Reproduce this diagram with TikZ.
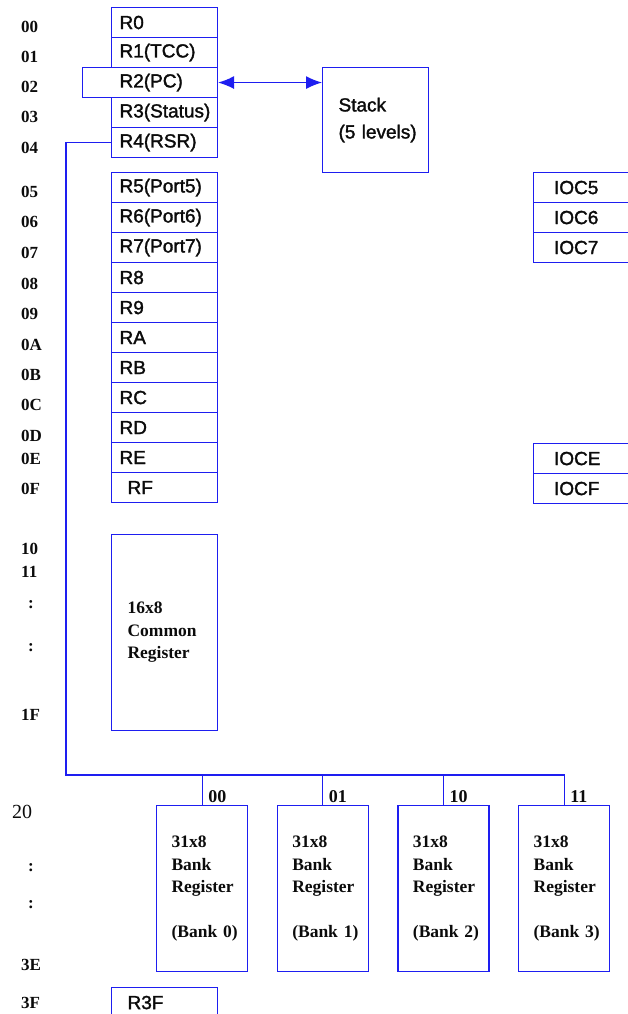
\documentclass[tikz,border=0pt]{standalone}
\usepackage{fontspec}
\setmainfont{Liberation Serif}
\newfontfamily\regfont[FakeBold=1.6]{Liberation Sans}
\usetikzlibrary{arrows.meta,positioning}
\definecolor{MAPblue}{HTML}{1E1EF0}
\definecolor{MAPink}{HTML}{0B0B0B}

\begin{document}
\begin{tikzpicture}[
  x=1pt,y=-1pt,
  line cap=rect,
  reg/.style={draw=MAPblue,line width=1.1pt,anchor=north west,minimum width=106pt,
    minimum height=30pt,inner xsep=8pt,inner ysep=0pt,text width=90pt,align=left,
    text=MAPink,font=\regfont\fontsize{19}{22}\selectfont},
  ioc/.style={reg,inner xsep=16pt,text width=65pt},
  addr/.style={anchor=west,inner sep=0pt,text=MAPink,font=\bfseries\fontsize{17}{20}\selectfont},
  dots/.style={inner sep=0pt,text=MAPink,font=\bfseries\fontsize{17}{20}\selectfont},
  block/.style={draw=MAPblue,line width=1.1pt,anchor=north west,inner ysep=0pt,align=left,
    text=MAPink,font=\bfseries\fontsize{17.5}{22.5}\selectfont},
  bitlbl/.style={anchor=south west,inner xsep=0pt,inner ysep=2pt,text=MAPink,
    font=\bfseries\fontsize{18}{20}\selectfont},
  link/.style={draw=MAPblue,line width=1.2pt,
    {Latex[length=16pt,width=13pt]}-{Latex[length=16pt,width=13pt]}},
  bus/.style={draw=MAPblue,line width=1.1pt}
]

\useasboundingbox (0,0) rectangle (627,1014);

% address column
\foreach \a/\yy in {00/27,01/57,02/87,03/117,04/148,05/192,06/222,07/253,08/284,09/314,
  0A/345,0B/375,0C/405,0D/436,0E/459,0F/489,10/549,11/572,1F/715,3E/965,3F/1003}
  \node[addr] (ad\a) at (21,\yy) {\a};
\node[addr,font=\fontsize{20}{22}\selectfont] (ad20) at (12,812) {20};
\foreach \yy [count=\k] in {605,648,868,905}
  \node[dots] (dt\k) at (31,\yy) {:};

% special registers
\foreach \txt/\nm/\yy in {R0/r0/7,R1(TCC)/r1/37,R3(Status)/r3/97,R4(RSR)/r4/127}
  \node[reg] (\nm) at (111,\yy) {\txt};
\node[reg,minimum width=135pt,text width=119pt] (r2) at (82,67) {\hspace*{29pt}R2(PC)};

\node[reg,minimum width=106pt,minimum height=105pt,inner xsep=16pt,text width=74pt,
  font=\regfont\fontsize{19}{27}\selectfont] (stack) at (322,67)
  {Stack\\\mbox{(5 levels)}};
\draw[link] (r2.east) -- (r2.east -| stack.west);

% general registers
\foreach \txt/\nm [count=\i from 0] in {R5(Port5)/r5,R6(Port6)/r6,R7(Port7)/r7,R8/r8,R9/r9,
  RA/rA,RB/rB,RC/rC,RD/rD,RE/rE,\hspace*{8pt}RF/rF}
  \node[reg] (\nm) at (111,172+30*\i) {\txt};

% control registers
\foreach \txt/\yy in {IOC5/172,IOC6/202,IOC7/232,IOCE/443,IOCF/473}
  \node[ioc] (\txt) at (533,\yy) {\txt};

% common and bank registers
\node[block,minimum width=106pt,minimum height=196pt,inner xsep=16pt,text width=74pt]
  (common) at (111,534) {16x8\\Common\\Register};
\foreach \i in {0,...,3}
  \node[block,minimum width=91pt,minimum height=166pt,inner xsep=15pt,text width=61pt]
    (bank\i) at (156+120.7*\i,805) {31x8\\Bank\\\mbox{Register}\\[22.5pt]\mbox{(Bank \i)}};
\foreach \i/\bits in {0/00,1/01,2/10,3/11}
  \node[bitlbl] (bit\i) at ([xshift=6pt]bank\i.north) {\bits};

% RSR bank select
\coordinate (busL) at (66,775);
\draw[bus] (r4.west) -| (busL) -| (bank3.north);
\foreach \i in {0,1,2}
  \draw[bus] (bank\i.north) -- (bank\i.north |- busL);

\node[reg] (r3F) at (111,987) {\hspace*{8pt}R3F};

\end{tikzpicture}
\end{document}
